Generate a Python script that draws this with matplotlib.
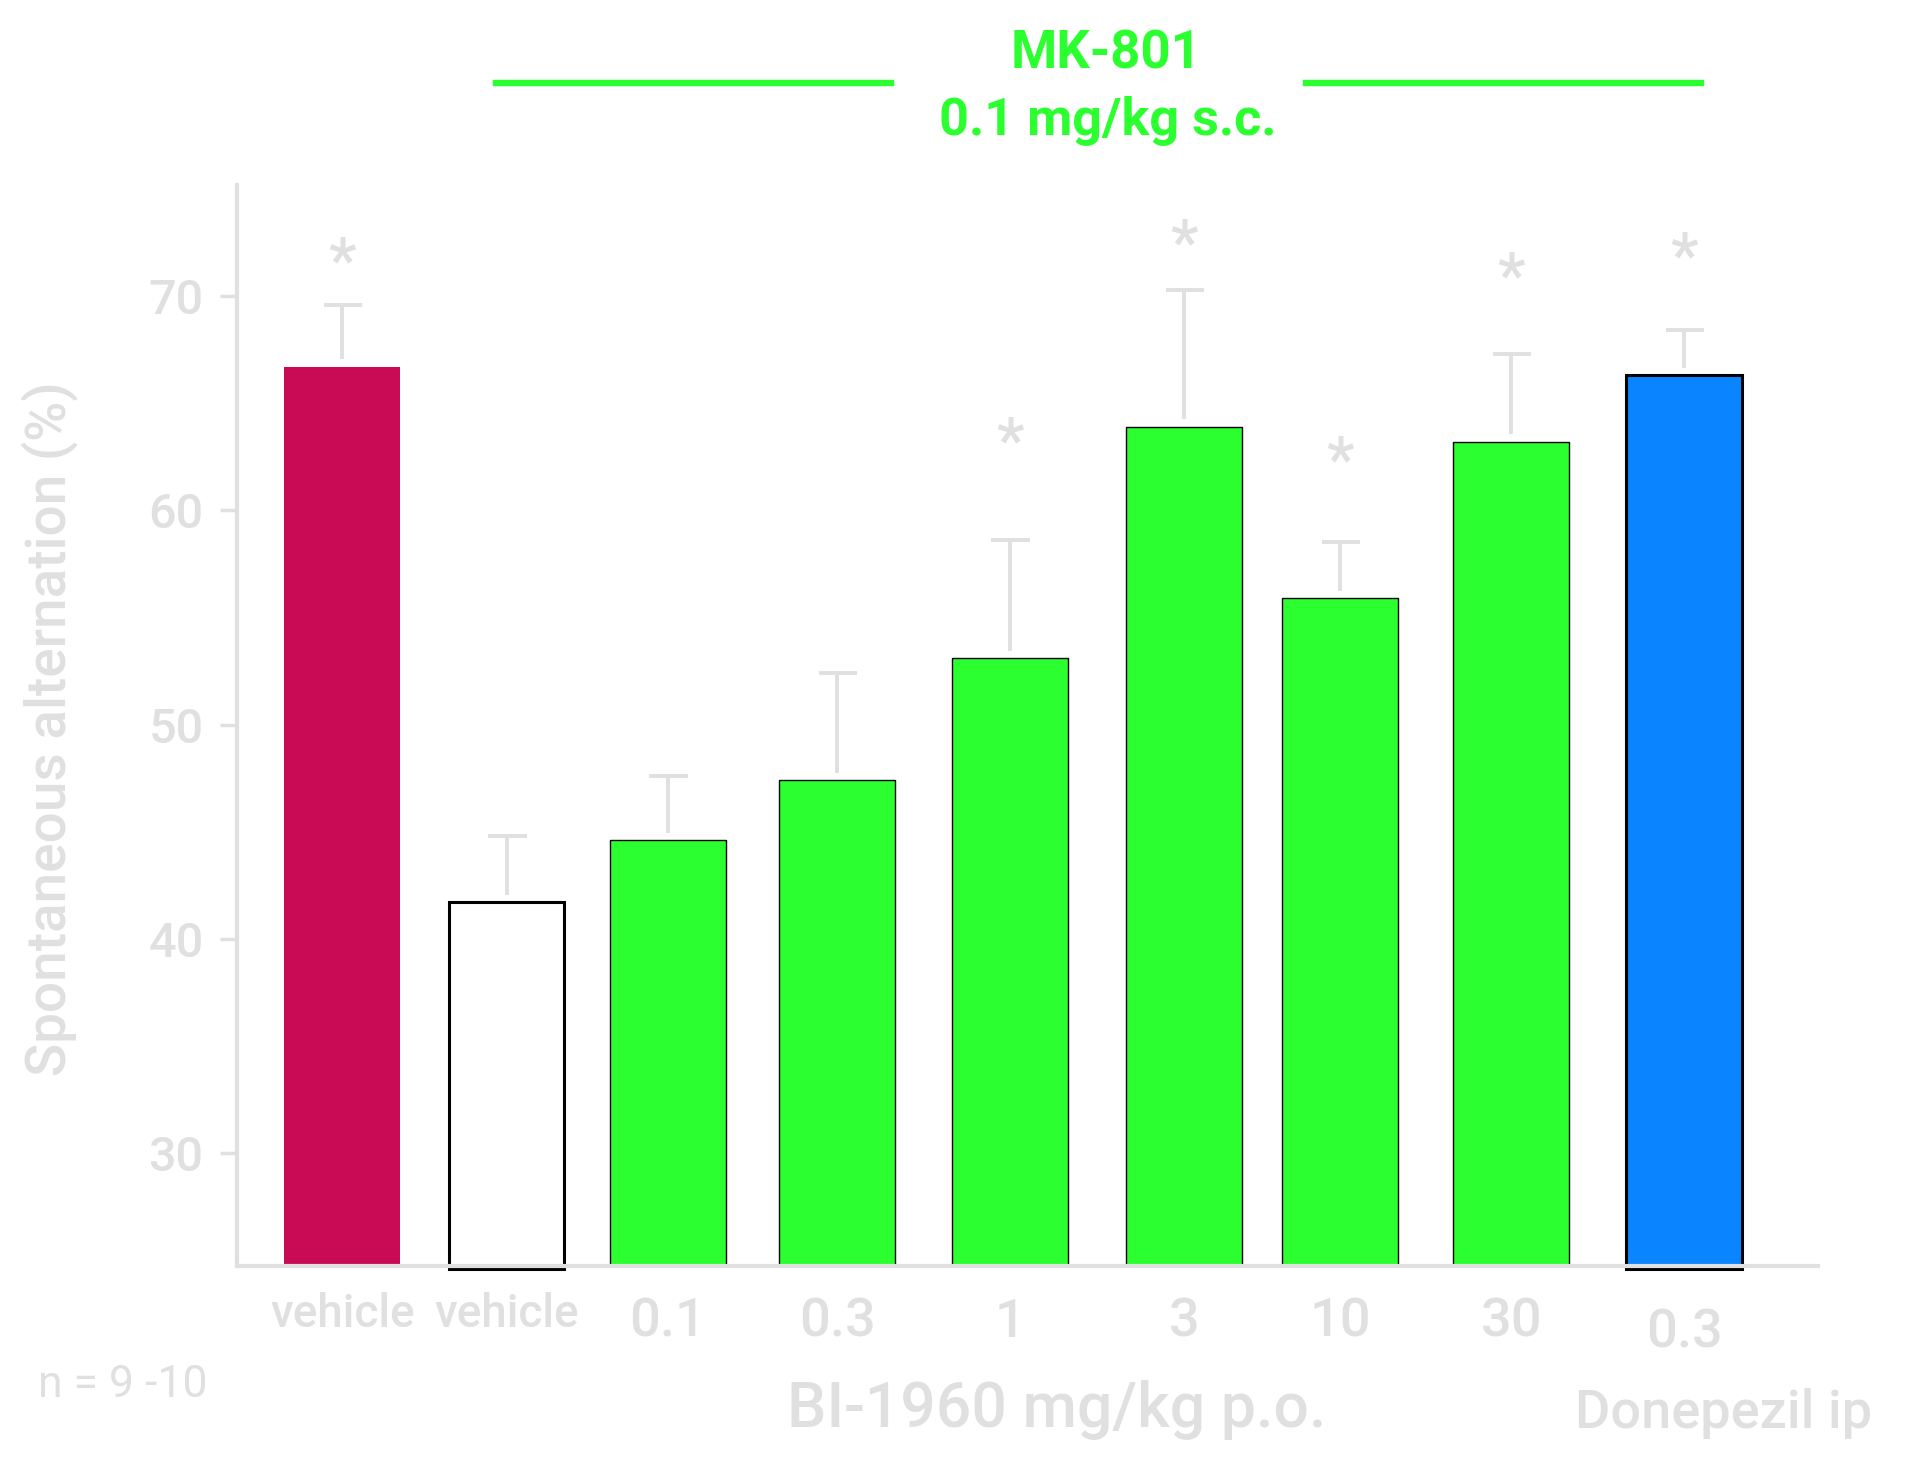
"""
Alternancia espontánea: MK-801 + BI-1960 / Donepezil.
"""
import matplotlib
matplotlib.use("Agg")
import matplotlib.pyplot as plt
from matplotlib.lines import Line2D

plt.rcParams['font.family'] = ['Roboto', 'DejaVu Sans']

# datos
etiquetas = ["vehicle", "vehicle", "0.1", "0.3", "1", "3", "10", "30", "0.3"]
medias = [66.7, 41.7, 44.6, 47.4, 53.1, 63.9, 55.9, 63.2, 66.3]
error_sup = [69.6, 44.8, 47.6, 52.4, 58.6, 70.3, 58.5, 67.3, 68.4]
asteriscos = [72.0, None, None, None, 63.6, 72.8, 62.7, 71.3, 72.2]

colores = ["#C90B55", "#FFFFFF", "#2BFF2F", "#2BFF2F", "#2BFF2F",
           "#2BFF2F", "#2BFF2F", "#2BFF2F", "#0A84FF"]
bordes = ["#C90B55", "black", "black", "black", "black",
          "black", "black", "black", "black"]
grosor = [0, 2.2, 1.0, 1.0, 1.0, 1.0, 1.0, 1.0, 2.2]
posiciones = [0, 0.98, 1.94, 2.95, 3.98, 5.02, 5.95, 6.97, 8.0]

gris = "#E0E0E0"
verde = "#2BFF2F"

fig = plt.figure(figsize=(19.09, 14.80), dpi=100)
ax = fig.add_axes([0.1241, 0.1446, 0.8282, 0.7304])

y_min, y_max = 24.73, 75.18
for x, m, c, b, g in zip(posiciones, medias, colores, bordes, grosor):
    # las barras con borde grueso asoman un poco bajo el eje
    base = 24.6 if g > 2 else y_min
    ax.bar(x, m - base, bottom=base, width=0.69, color=c, edgecolor=b,
           linewidth=g, zorder=2, clip_on=False)

# barras de error (solo hacia arriba)
for x, m, e in zip(posiciones, medias, error_sup):
    ax.vlines(x, m + 0.35, e, color=gris, linewidth=2.8, zorder=3)
    ax.hlines(e, x - 0.11, x + 0.12, color=gris, linewidth=2.8, zorder=3)

for x, a in zip(posiciones, asteriscos):
    if a is not None:
        ax.text(x, a - 0.5, "*", ha="center", va="center", fontsize=45,
                color=gris, fontweight="medium")

ax.set_xlim(-0.628, 8.798)
ax.set_ylim(y_min, y_max)

for lado in ["top", "right"]:
    ax.spines[lado].set_visible(False)
for lado in ["left", "bottom"]:
    ax.spines[lado].set_color(gris)
    ax.spines[lado].set_linewidth(3)
    ax.spines[lado].set_zorder(4)

ax.set_yticks([30, 40, 50, 60, 70])
ax.tick_params(axis="y", colors=gris, length=12, width=2.5, pad=12,
               labelsize=35)
for lbl in ax.get_yticklabels():
    lbl.set_fontweight("medium")

ax.set_xticks(posiciones)
ax.set_xticklabels(etiquetas)
ax.tick_params(axis="x", length=0, colors=gris, pad=22, labelsize=39)
for i, lbl in enumerate(ax.get_xticklabels()):
    lbl.set_fontweight("medium")
    if etiquetas[i] == "vehicle":
        lbl.set_fontsize(33)
ticks = ax.xaxis.get_major_ticks()
ticks[0].set_pad(19)
ticks[1].set_pad(19)
ticks[8].set_pad(30)

fig.text(0.0267, 0.508, "Spontaneous alternation (%)", rotation=90,
         ha="center", va="center", fontsize=39.5, color=gris,
         fontweight="medium")
fig.text(0.5537, 0.047, "BI-1960 mg/kg p.o.", ha="center", va="center",
         fontsize=45, color=gris, fontweight="medium")
fig.text(0.9031, 0.045, "Donepezil ip", ha="center", va="center",
         fontsize=39, color=gris, fontweight="medium")
fig.text(0.0644, 0.0645, "n = 9 -10", ha="center", va="center",
         fontsize=32, color=gris)

# titulo MK-801
fig.text(0.5795, 0.9635, "MK-801", ha="center", va="center", fontsize=38,
         color=verde, fontweight="bold")
fig.text(0.5805, 0.9180, "0.1 mg/kg s.c.", ha="center", va="center",
         fontsize=37.5, color=verde, fontweight="bold")
for x0, x1 in [(495.5, 891), (1306, 1701)]:
    fig.add_artist(Line2D([x0 / 1909, x1 / 1909], [1 - 83 / 1480] * 2,
                          color=verde, linewidth=4.6))

fig.savefig("out.png", dpi=100)
